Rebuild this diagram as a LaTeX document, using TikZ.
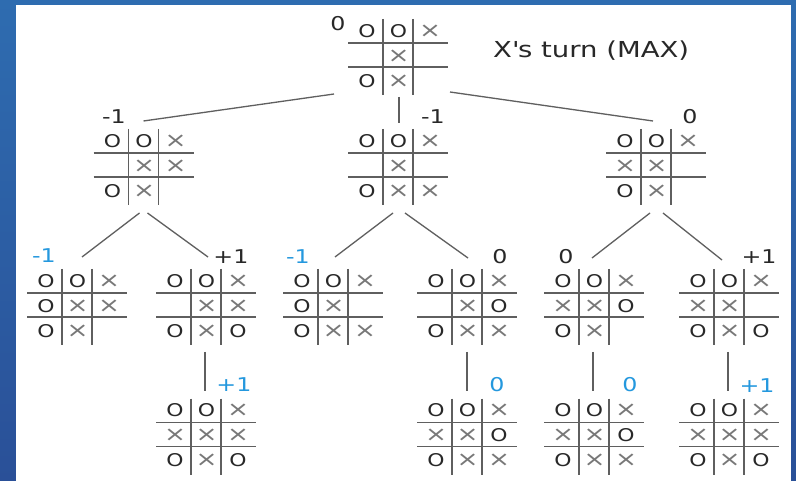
\documentclass[tikz,border=0pt]{standalone}
\usepackage{fontspec}
\setmainfont{DejaVu Sans}[FakeStretch=1.25]
\definecolor{bgtop}{RGB}{46,108,176}
\definecolor{bgbottom}{RGB}{42,80,152}
\definecolor{gridgray}{RGB}{95,95,95}
\definecolor{crossgray}{RGB}{120,120,120}
\definecolor{textdark}{RGB}{40,40,40}
\definecolor{leafblue}{RGB}{36,152,222}

% cell contents: o, x, n (empty)
\newcommand{\cello}{O}
\newcommand{\cellx}{{\fontsize{21}{21}\selectfont\color{crossgray}×}}
\newcommand{\celln}{}

% one tic-tac-toe board: name, centre, nine cells row by row
\newcommand{\tttboard}[3]{%
  \node[board] (#1) at (#2) {};
  \draw[gridline] ([xshift=-15pt]#1.north) -- ([xshift=-15pt]#1.south)
                  ([xshift=15pt]#1.north) -- ([xshift=15pt]#1.south);
  \draw[gridline] ([yshift=14pt]#1.west) -- ([yshift=14pt]#1.east)
                  ([yshift=-10pt]#1.west) -- ([yshift=-10pt]#1.east);
  \begin{scope}[shift={(#1.center)}]
    \foreach \s [count=\i from 0] in {#3} {
      \pgfmathtruncatemacro{\bcol}{mod(\i,3)}
      \pgfmathtruncatemacro{\brow}{div(\i,3)}
      \node[cell] (#1-\i) at ({-31+31.5*\bcol}, {-26+25*\brow}) {\csname cell\s\endcsname};
    }
  \end{scope}
}

\begin{document}
\begin{tikzpicture}[x=1pt, y=-1pt,
  board/.style={minimum width=100pt, minimum height=76pt, inner sep=0pt, outer sep=0pt},
  gridline/.style={draw=gridgray, line width=1.3pt},
  link/.style={draw=gridgray, line width=1.3pt},
  cell/.style={inner sep=0pt, font=\fontsize{17.5}{17.5}\selectfont, text=textdark},
  val/.style={inner sep=0pt, font=\fontsize{19}{19}\selectfont, text=textdark},
  leaf/.style={val, text=leafblue},
  title/.style={inner sep=0pt, font=\fontsize{22}{22}\selectfont, text=textdark}]

% Frame
\fill[top color=bgtop, bottom color=bgbottom] (0,0) rectangle (796,481);
\fill[white] (16,5) rectangle (791,481);
\useasboundingbox (0,0) rectangle (796,481);

% Root
\tttboard{root}{398,57}{o,o,x,n,x,n,o,x,n}
\node[val] (vroot) at (338,24) {0};
\node[title, anchor=west] (turn) at (493,51) {X\textquotesingle s turn (MAX)};

% Level 1
\tttboard{la}{143.5,167}{o,o,x,n,x,x,o,x,n}
\tttboard{lb}{398,167}{o,o,x,n,x,n,o,x,x}
\tttboard{lc}{656,167}{o,o,x,x,x,n,o,x,n}
\node[val] (vla) at (114,117) {-1};
\node[val] (vlb) at (433,117) {-1};
\node[val] (vlc) at (690,117) {0};

% Level 2
\tttboard{laa}{77,307}{o,o,x,o,x,x,o,x,n}
\tttboard{lab}{206,307}{o,o,x,n,x,x,o,x,o}
\tttboard{lba}{333,307}{o,o,x,o,x,n,o,x,x}
\tttboard{lbb}{467,307}{o,o,x,n,x,o,o,x,x}
\tttboard{lca}{594,307}{o,o,x,x,x,o,o,x,n}
\tttboard{lcb}{729,307}{o,o,x,x,x,n,o,x,o}
\node[leaf] (vlaa) at (44,256) {-1};
\node[val] (vlab) at (231,257) {+1};
\node[leaf] (vlba) at (298,257) {-1};
\node[val] (vlbb) at (500,257) {0};
\node[val] (vlca) at (566,257) {0};
\node[val] (vlcb) at (759,257) {+1};

% Level 3
\tttboard{laba}{206,436.5}{o,o,x,x,x,x,o,x,o}
\tttboard{lbba}{467,436.5}{o,o,x,x,x,o,o,x,x}
\tttboard{lcaa}{594,436.5}{o,o,x,x,x,o,o,x,x}
\tttboard{lcba}{729,436.5}{o,o,x,x,x,x,o,x,o}
\node[leaf] (vlaba) at (234,385) {+1};
\node[leaf] (vlbba) at (497,385) {0};
\node[leaf] (vlcaa) at (630,385) {0};
\node[leaf] (vlcba) at (757,386) {+1};

% Links
\draw[link] ([xshift=-14pt,yshift=1pt]root.south west) -- ([yshift=8pt]la.north);
\draw[link] ([xshift=1pt,yshift=-2pt]root.south) -- ([xshift=1pt,yshift=6pt]lb.north);
\draw[link] ([xshift=2pt,yshift=3pt]root.south east) -- ([xshift=-3pt,yshift=8pt]lc.north);

\draw[link] ([xshift=-4pt,yshift=-8pt]la.south) -- ([xshift=5pt,yshift=12pt]laa.north);
\draw[link] ([xshift=4pt,yshift=-8pt]la.south) -- ([xshift=2pt,yshift=12pt]lab.north);
\draw[link] ([xshift=-5pt,yshift=-8pt]lb.south) -- ([xshift=2pt,yshift=12pt]lba.north);
\draw[link] ([xshift=7pt,yshift=-8pt]lb.south) -- ([xshift=1pt,yshift=11pt]lbb.north);
\draw[link] ([xshift=-6pt,yshift=-8pt]lc.south) -- ([xshift=-2pt,yshift=11pt]lca.north);
\draw[link] ([xshift=7pt,yshift=-8pt]lc.south) -- ([xshift=-7pt,yshift=9pt]lcb.north);

\draw[link] ([xshift=-1pt,yshift=-7pt]lab.south) -- ([xshift=-1pt,yshift=8pt]laba.north);
\draw[link] ([yshift=-7pt]lbb.south) -- ([yshift=8pt]lbba.north);
\draw[link] ([xshift=-1pt,yshift=-7pt]lca.south) -- ([xshift=-1pt,yshift=8pt]lcaa.north);
\draw[link] ([xshift=-1pt,yshift=-7pt]lcb.south) -- ([xshift=-1pt,yshift=8pt]lcba.north);

\end{tikzpicture}
\end{document}
